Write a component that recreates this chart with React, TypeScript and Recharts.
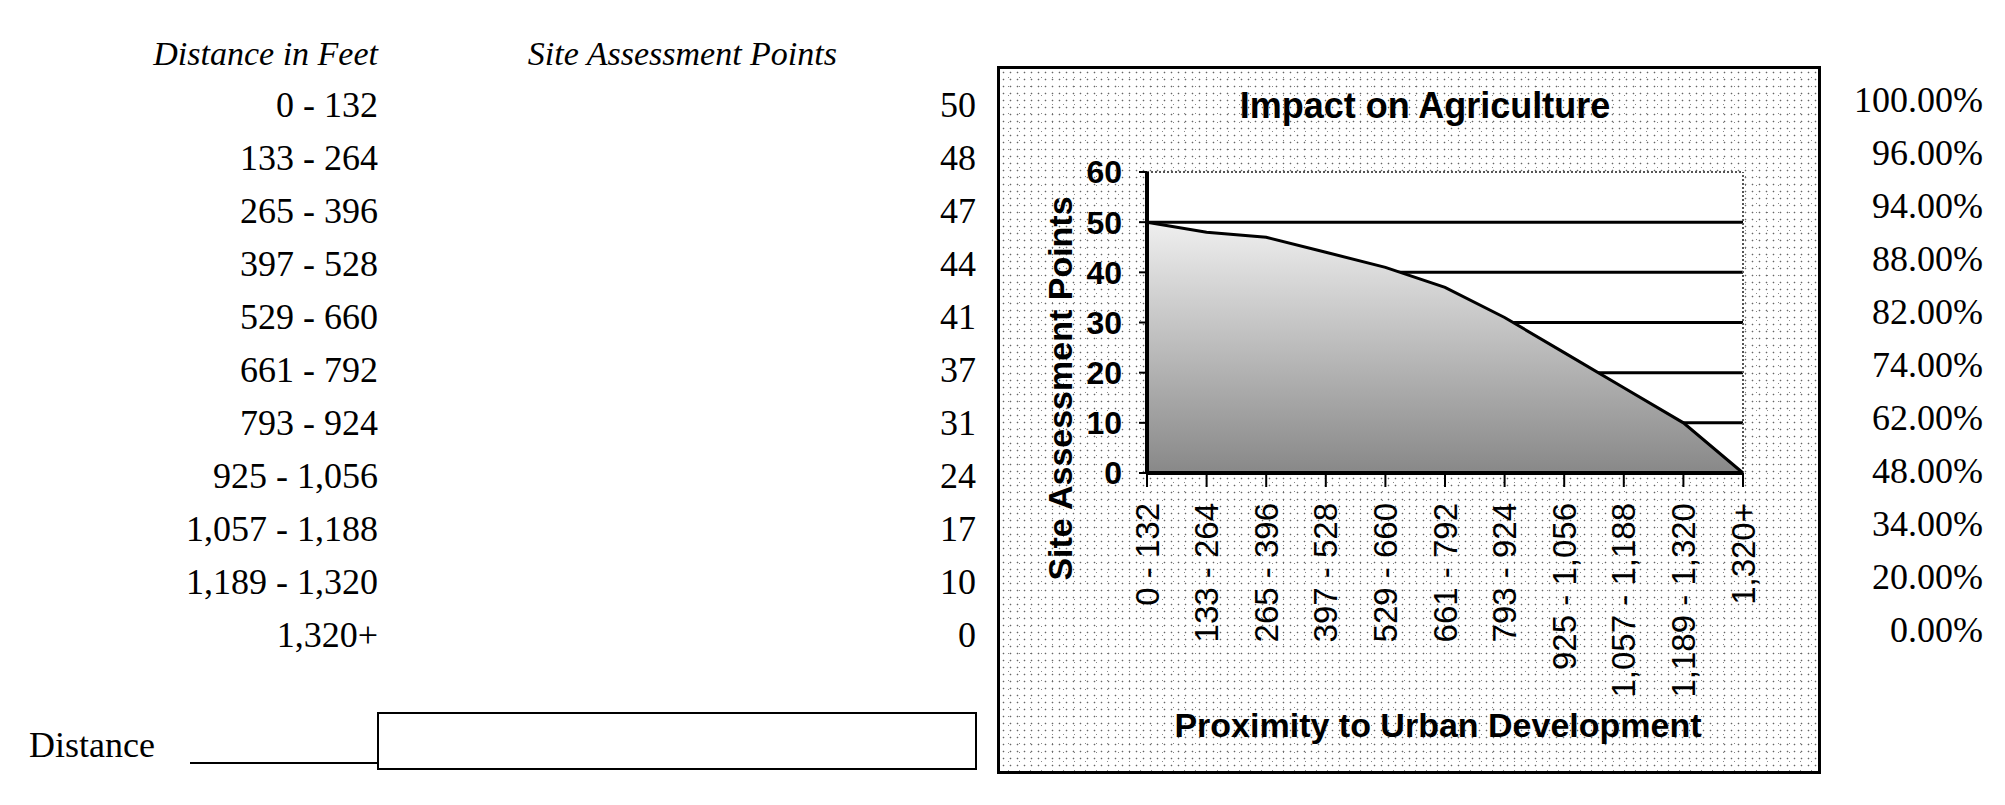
import { AreaChart, Area, XAxis, YAxis, CartesianGrid, ReferenceLine } from "recharts";

// table / chart data
const distanceRanges = [
  "0 - 132",
  "133 - 264",
  "265 - 396",
  "397 - 528",
  "529 - 660",
  "661 - 792",
  "793 - 924",
  "925 - 1,056",
  "1,057 - 1,188",
  "1,189 - 1,320",
  "1,320+",
];
const sitePoints = [50, 48, 47, 44, 41, 37, 31, 24, 17, 10, 0];
const percentLabels = [
  "100.00%",
  "96.00%",
  "94.00%",
  "88.00%",
  "82.00%",
  "74.00%",
  "62.00%",
  "48.00%",
  "34.00%",
  "20.00%",
  "0.00%",
];
const yTicks = [0, 10, 20, 30, 40, 50, 60];

const chartData = distanceRanges.map((range, i) => ({ range, points: sitePoints[i] }));

const SERIF = '"Liberation Serif", "Times New Roman", serif';
const SANS = '"Liberation Sans", Arial, sans-serif';

function RotatedTick(props: any) {
  const { x, y, payload } = props;
  return (
    <text
      x={x}
      y={y}
      transform={`rotate(-90 ${x} ${y})`}
      textAnchor="end"
      dominantBaseline="central"
      fontSize={33}
      fontFamily={SANS}
      fill="#000"
    >
      {payload.value}
    </text>
  );
}

// top edge of the plot is a dotted line, the rest are solid black
function GridLine(p: any) {
  const top = Math.abs(p.y1 - p.y) < 1;
  return (
    <line
      key={p.key}
      x1={p.x1}
      y1={p.y1}
      x2={p.x2}
      y2={p.y2}
      stroke={top ? "#555" : "#000"}
      strokeWidth={top ? 2 : 3}
      strokeDasharray={top ? "2 2" : undefined}
    />
  );
}

function ImpactChart() {
  return (
    <div
      style={{
        position: "absolute",
        left: 997,
        top: 66,
        width: 824,
        height: 708,
        boxSizing: "border-box",
        border: "3px solid #000",
        backgroundColor: "#fff",
        backgroundImage:
          "radial-gradient(circle, #666 0.7px, transparent 1.1px), radial-gradient(circle, #888 0.6px, transparent 1px)",
        backgroundSize: "7px 7px, 11px 9px",
        backgroundPosition: "0 0, 3px 4px",
      }}
    >
      <AreaChart
        width={818}
        height={702}
        data={chartData}
        margin={{ top: 103, right: 75, left: 0, bottom: 0 }}
      >
        <defs>
          <linearGradient id="agriFill" x1="0" y1="0" x2="0" y2="1">
            <stop offset="0%" stopColor="#efefef" />
            <stop offset="100%" stopColor="#888888" />
          </linearGradient>
        </defs>
        <CartesianGrid fill="#fff" vertical={false} horizontal={GridLine} />
        <XAxis
          dataKey="range"
          interval={0}
          height={298}
          tick={<RotatedTick />}
          tickSize={14}
          tickMargin={16}
          axisLine={{ stroke: "#000", strokeWidth: 4 }}
          tickLine={{ stroke: "#000", strokeWidth: 2 }}
          label={{
            content: (props: any) => {
              const vb = props.viewBox;
              return (
                <text
                  x={vb.x + vb.width / 2 - 7}
                  y={vb.y + 264}
                  textAnchor="middle"
                  fontSize={34}
                  fontWeight={700}
                  fontFamily={SANS}
                  fill="#000"
                >
                  Proximity to Urban Development
                </text>
              );
            },
          }}
        />
        <YAxis
          width={147}
          domain={[0, 60]}
          ticks={yTicks}
          interval={0}
          tickSize={8}
          tickMargin={17}
          tick={{ fontSize: 32, fontWeight: 700, fill: "#000", fontFamily: SANS }}
          axisLine={{ stroke: "#000", strokeWidth: 4 }}
          tickLine={{ stroke: "#000", strokeWidth: 2 }}
          label={{
            content: (props: any) => {
              const vb = props.viewBox;
              const cx = vb.x + 60;
              const cy = vb.y + vb.height / 2 + 66;
              return (
                <text
                  x={cx}
                  y={cy}
                  transform={`rotate(-90 ${cx} ${cy})`}
                  textAnchor="middle"
                  dominantBaseline="central"
                  fontSize={34}
                  fontWeight={700}
                  fontFamily={SANS}
                  fill="#000"
                >
                  Site Assessment Points
                </text>
              );
            },
          }}
        />
        <Area
          type="linear"
          dataKey="points"
          stroke="#000"
          strokeWidth={3}
          fill="url(#agriFill)"
          fillOpacity={1}
          dot={false}
          activeDot={false}
          isAnimationActive={false}
        />
        <ReferenceLine
          x={distanceRanges[distanceRanges.length - 1]}
          stroke="#555"
          strokeWidth={2}
          strokeDasharray="2 2"
        />
      </AreaChart>
    </div>
  );
}

export default function App() {
  return (
    <div
      style={{
        position: "absolute",
        left: 0,
        top: 0,
        width: 2005,
        height: 805,
        background: "#fff",
        overflow: "hidden",
      }}
    >
      <ImpactChart />
      <svg
        width={2005}
        height={805}
        style={{ position: "absolute", left: 0, top: 0, pointerEvents: "none" }}
      >
        <g fontFamily={SERIF} fill="#000">
          <text x={378} y={65} textAnchor="end" fontSize={34} fontStyle="italic">
            Distance in Feet
          </text>
          <text x={837} y={65} textAnchor="end" fontSize={34} fontStyle="italic">
            Site Assessment Points
          </text>
          {distanceRanges.map((r, i) => (
            <text key={r} x={378} y={117 + 53 * i} textAnchor="end" fontSize={36}>
              {r}
            </text>
          ))}
          {sitePoints.map((v, i) => (
            <text key={i} x={976} y={117 + 53 * i} textAnchor="end" fontSize={36}>
              {v}
            </text>
          ))}
          {percentLabels.map((p, i) => (
            <text key={p} x={1983} y={112 + 53 * i} textAnchor="end" fontSize={36}>
              {p}
            </text>
          ))}
          <text x={29} y={757} fontSize={36}>
            Distance
          </text>
        </g>
        <line x1={190} y1={763} x2={378} y2={763} stroke="#000" strokeWidth={2} />
        <rect x={378} y={713} width={598} height={56} fill="none" stroke="#000" strokeWidth={2} />
        <text
          x={1425}
          y={118}
          textAnchor="middle"
          fontSize={36}
          fontWeight={700}
          fontFamily={SANS}
          fill="#000"
        >
          Impact on Agriculture
        </text>
      </svg>
    </div>
  );
}
